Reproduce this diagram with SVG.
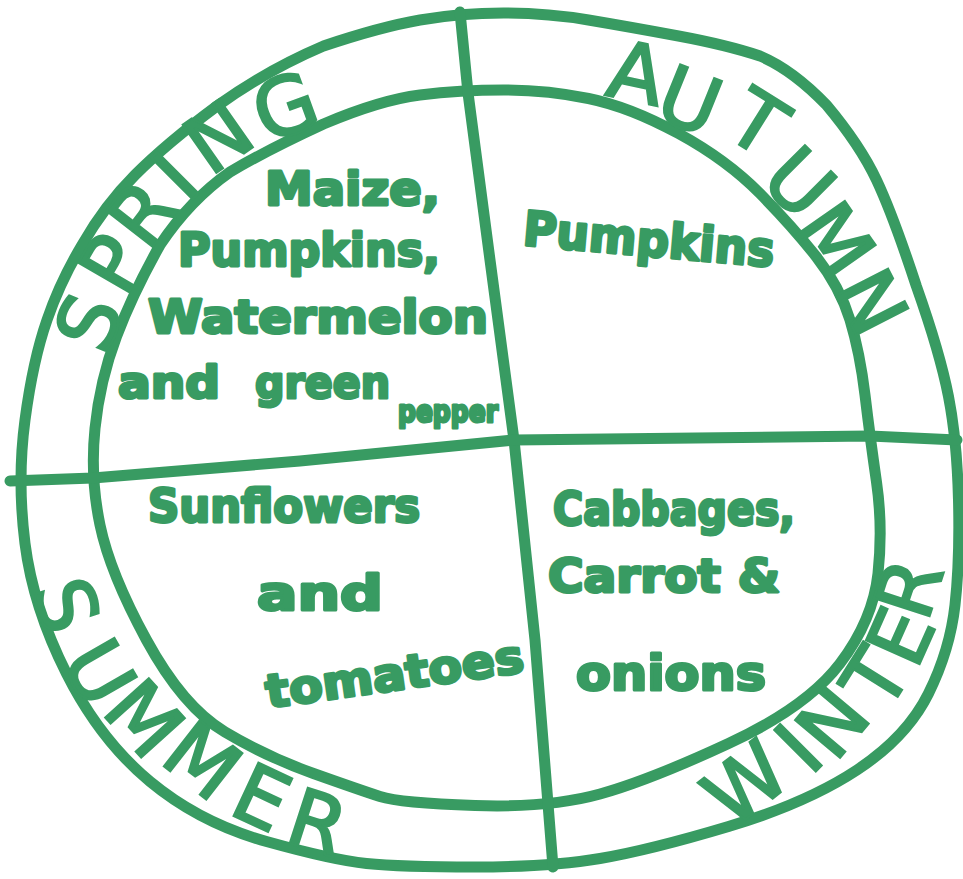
<svg xmlns="http://www.w3.org/2000/svg" width="963" height="879" viewBox="0 0 963 879">
<style>
.ln{fill:none;stroke:#389b62;stroke-width:11;stroke-linecap:round;stroke-linejoin:round}
.lt{font-family:"DejaVu Sans",sans-serif;font-size:80px;fill:#389b62;stroke:#389b62;stroke-width:2.5;text-anchor:middle}
.hw{font-family:"DejaVu Sans",sans-serif;font-weight:bold;fill:#389b62;stroke:#389b62;stroke-width:3;stroke-linejoin:round}
</style>
<rect width="963" height="879" fill="#ffffff"/>
<g id="rings">
<path class="ln" d="M 420 20 Q 460 13 503.5 13 Q 547 13 588.5 20 Q 630 27 678.5 36 Q 727 45 760 56 Q 793 70 826.5 105 Q 860 145 876.5 180 Q 893 215 916.5 286.5 Q 940 353 948.5 396.5 Q 957 440 958.5 500 Q 960 560 955 605 Q 950 650 928.5 693.5 Q 907 737 857 770 Q 807 803 728.5 826.5 Q 650 850 600 858.5 Q 550 867 475 867 Q 400 867 366.5 863.5 Q 333 860 266.5 841.5 Q 200 823 150 781.5 Q 100 740 66.5 673.5 Q 33 607 25 543.5 Q 17 480 25 420 Q 33 360 47 320 Q 60 282 82 245 Q 105 205 135 175 Q 167 143 217 106 Q 267 70 323.5 46 Q 380 27 420 20 Z"/>
<path class="ln" d="M 420 95 Q 460 90 503.5 90 Q 547 90 588.5 98.5 Q 630 107 678.5 133.5 Q 727 160 760 193.5 Q 793 227 816.5 257 Q 840 287 850 320 Q 860 353 865 395 Q 870 437 876.5 482 Q 883 527 878 573.5 Q 873 620 840 663.5 Q 807 707 728.5 743.5 Q 650 780 600 794 Q 550 808 475 805.5 Q 400 803 380 796.5 Q 360 790 313.5 773.5 Q 267 757 225 732 Q 183 707 146.5 640 Q 110 573 100 525 Q 90 477 95 428.5 Q 100 380 116.5 336.5 Q 133 293 160 245 Q 190 200 230 172 Q 267 150 323.5 124 Q 380 100 420 95 Z"/>
</g>
<g id="dividers">
<polyline class="ln" points="460,12 468,93 490,260 514,440 535,640 553,867"/>
<polyline class="ln" points="10,481 93,478 300,461 514,440 870,436 957,440"/>
</g>
<g id="spring">
<g id="spring-label">
<text class="lt" transform="translate(88,322) rotate(-68)" y="29">S</text>
<text class="lt" transform="translate(112,263) rotate(-60)" y="29">P</text>
<text class="lt" transform="translate(142,213) rotate(-52)" y="29">R</text>
<text class="lt" transform="translate(175,176) rotate(-45)" y="29">I</text>
<text class="lt" transform="translate(218,136) rotate(-35)" y="29">N</text>
<text class="lt" transform="translate(285,106) rotate(-20)" y="29">G</text>
</g>
<text class="hw" x="265" y="205" font-size="46" textLength="175" lengthAdjust="spacingAndGlyphs">Maize,</text>
<text class="hw" x="178" y="266" font-size="46" textLength="262" lengthAdjust="spacingAndGlyphs">Pumpkins,</text>
<text class="hw" x="148" y="333" font-size="46" textLength="340" lengthAdjust="spacingAndGlyphs">Watermelon</text>
<text class="hw" x="118" y="398" font-size="44" textLength="102" lengthAdjust="spacingAndGlyphs">and</text>
<text class="hw" x="255" y="398" font-size="44" textLength="135" lengthAdjust="spacingAndGlyphs">green</text>
<text class="hw" x="398" y="422" font-size="30" textLength="100" lengthAdjust="spacingAndGlyphs">pepper</text>
</g>
<g id="autumn">
<g id="autumn-label">
<text class="lt" transform="translate(637,72) rotate(12)" y="29">A</text>
<text class="lt" transform="translate(690,100) rotate(22)" y="29">U</text>
<text class="lt" transform="translate(758,122) rotate(32)" y="29">T</text>
<text class="lt" transform="translate(800,182) rotate(45)" y="29">U</text>
<text class="lt" transform="translate(836,240) rotate(55)" y="29">M</text>
<text class="lt" transform="translate(872,302) rotate(63)" y="29">N</text>
</g>
<text class="hw" x="522" y="245" font-size="48" textLength="252" lengthAdjust="spacingAndGlyphs" transform="rotate(5 522 245)">Pumpkins</text>
</g>
<g id="summer">
<g id="summer-label">
<text class="lt" transform="translate(67,605) rotate(72)" y="29">S</text>
<text class="lt" transform="translate(100,672) rotate(60)" y="29">U</text>
<text class="lt" transform="translate(145,718) rotate(48)" y="29">M</text>
<text class="lt" transform="translate(203,760) rotate(38)" y="29">M</text>
<text class="lt" transform="translate(262,797) rotate(25)" y="29">E</text>
<text class="lt" transform="translate(318,822) rotate(18)" y="29">R</text>
</g>
<text class="hw" x="148" y="522" font-size="46" textLength="272" lengthAdjust="spacingAndGlyphs">Sunflowers</text>
<text class="hw" x="257" y="610" font-size="48" textLength="126" lengthAdjust="spacingAndGlyphs">and</text>
<text class="hw" x="268" y="708" font-size="46" textLength="260" lengthAdjust="spacingAndGlyphs" transform="rotate(-8 268 708)">tomatoes</text>
</g>
<g id="winter">
<g id="winter-label">
<text class="lt" transform="translate(745,783) rotate(-38)" y="29">W</text>
<text class="lt" transform="translate(798,748) rotate(-45)" y="29">I</text>
<text class="lt" transform="translate(832,722) rotate(-50)" y="29">N</text>
<text class="lt" transform="translate(875,678) rotate(-58)" y="29">T</text>
<text class="lt" transform="translate(900,636) rotate(-66)" y="29">E</text>
<text class="lt" transform="translate(908,588) rotate(-72)" y="29">R</text>
</g>
<text class="hw" x="553" y="525" font-size="46" textLength="242" lengthAdjust="spacingAndGlyphs">Cabbages,</text>
<text class="hw" x="548" y="592" font-size="46" textLength="232" lengthAdjust="spacingAndGlyphs">Carrot &amp;</text>
<text class="hw" x="576" y="690" font-size="48" textLength="190" lengthAdjust="spacingAndGlyphs">onions</text>
</g>
</svg>
